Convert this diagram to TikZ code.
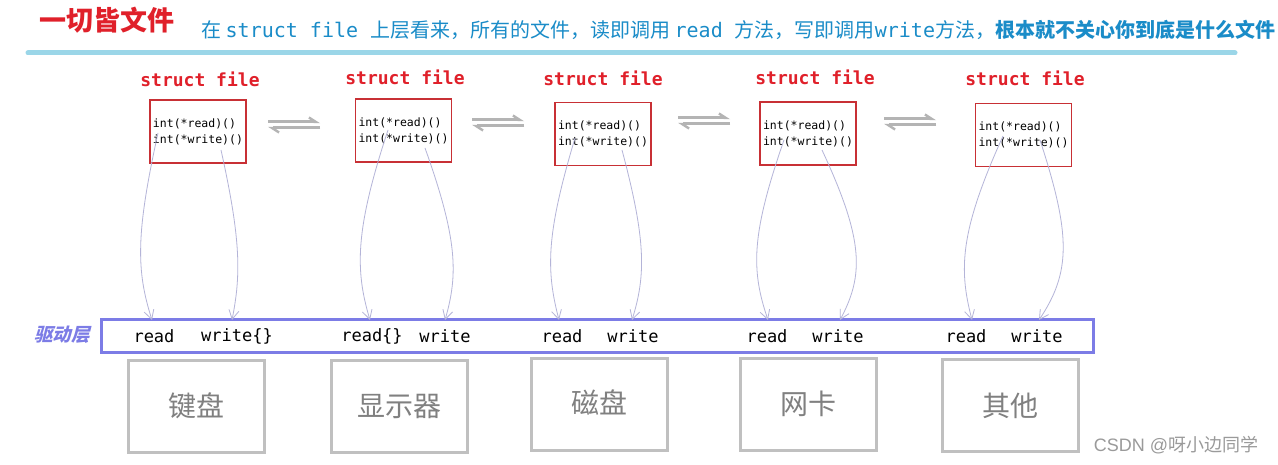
\documentclass[tikz,border=0pt]{standalone}
\usepackage{fontspec}
\setmonofont{DejaVu Sans Mono}
\newfontfamily\cjk{Noto Sans CJK SC}
\newfontfamily\cjkslant{Noto Sans CJK SC}[FakeSlant=0.25]
\newfontfamily\wmfont{Liberation Sans}
\usetikzlibrary{arrows.meta}
\definecolor{titlered}{HTML}{E0202A}
\definecolor{subblue}{HTML}{1A8CC8}
\definecolor{hlineblue}{HTML}{9BD6E8}
\definecolor{boxred}{HTML}{C83035}
\definecolor{layerblue}{HTML}{7C7CE6}
\definecolor{arrowpurple}{HTML}{B4B4D8}
\definecolor{devgray}{HTML}{C0C0C0}
\definecolor{devtext}{HTML}{808080}
\definecolor{swapgray}{HTML}{B4B4B4}
\tikzset{
  structlbl/.style={text=titlered, font=\ttfamily\bfseries\fontsize{18}{18}\selectfont, inner sep=0},
  filebox/.style={draw=boxred, line width=1.1pt, minimum width=96pt, minimum height=63pt, inner sep=0,
    align=left, font=\ttfamily\fontsize{11.5}{16}\selectfont},
  calls/.style={draw=arrowpurple, line width=0.8pt, -{Straight Barb[length=9pt,width=10pt,line width=0.8pt]}},
  swaparrow/.style={draw=swapgray, line width=3pt, -{Straight Barb[harpoon,length=7pt,width=9pt,line width=2.4pt]}},
  layerbox/.style={draw=layerblue, line width=3pt, minimum width=992pt, minimum height=32pt, inner sep=0},
  op/.style={font=\ttfamily\fontsize{17}{17}\selectfont, inner sep=0},
  devbox/.style={draw=devgray, line width=3pt, minimum width=136pt, minimum height=92pt, inner sep=0,
    text=devtext, font=\cjk\fontsize{28}{28}\selectfont},
}
\begin{document}
\begin{tikzpicture}[x=1pt,y=1pt]
\useasboundingbox[fill=white] (0,0) rectangle (1278,-465);
% title and subtitle
\node[anchor=west, text=titlered, inner sep=0, font=\cjk\bfseries\fontsize{27}{27}\selectfont] (title) at (39,-20) {一切皆文件};
\node[anchor=west, text=subblue, inner sep=0, font=\fontsize{20}{20}\selectfont] (sub) at (201,-30)
  {\cjk 在 \ttfamily struct file \cjk 上层看来，所有的文件，读即调用 \ttfamily read \cjk 方法，写即调用\ttfamily write\cjk 方法，\bfseries 根本就不关心你到底是什么文件};
\coordinate (hl) at (28,-53);
\coordinate (hr) at (1235,-53);
\draw[hlineblue, line width=5pt, line cap=round] (hl) -- (hr);
% struct file labels
\node[structlbl] (s1) at (200,-79) {struct file};
\node[structlbl] (s2) at (405,-77) {struct file};
\node[structlbl] (s3) at (603,-78) {struct file};
\node[structlbl] (s4) at (815,-77) {struct file};
\node[structlbl] (s5) at (1025,-78) {struct file};
% file boxes
\node[filebox] (f1) at (198,-131.5) {int(*read)()\\int(*write)()};
\node[filebox] (f2) at (403.5,-130.5) {int(*read)()\\int(*write)()};
\node[filebox] (f3) at (603,-134) {int(*read)()\\int(*write)()};
\node[filebox] (f4) at (808,-133.5) {int(*read)()\\int(*write)()};
\node[filebox] (f5) at (1023.5,-135) {int(*read)()\\int(*write)()};
% swap arrows
\draw[swaparrow] (268,-122) -- (320,-122);
\draw[swaparrow] (320,-128) -- (268,-128);
\draw[swaparrow] (472,-120) -- (524,-120);
\draw[swaparrow] (524,-126) -- (472,-126);
\draw[swaparrow] (678,-118) -- (730,-118);
\draw[swaparrow] (730,-124) -- (678,-124);
\draw[swaparrow] (884,-119) -- (936,-119);
\draw[swaparrow] (936,-125) -- (884,-125);
% driver layer
\node[layerbox] (layer) at (597,-336) {};
\node[text=layerblue, inner sep=0, font=\cjkslant\bfseries\fontsize{18.5}{18.5}\selectfont] (drv) at (62,-335) {驱动层};
\node[op] (r1) at (154,-336) {read};
\node[op] (w1) at (237,-336) {write\{\}};
\node[op] (r2) at (372,-336) {read\{\}};
\node[op] (w2) at (445,-336) {write};
\node[op] (r3) at (562,-336) {read};
\node[op] (w3) at (633,-336) {write};
\node[op] (r4) at (767,-336) {read};
\node[op] (w4) at (838,-336) {write};
\node[op] (r5) at (966,-336) {read};
\node[op] (w5) at (1037,-336) {write};
% start and end points of the call arrows
\coordinate (a1) at (158,-133); \coordinate (e1) at (152,-320);
\coordinate (b1) at (221,-150); \coordinate (g1) at (232,-320);
\coordinate (a2) at (388,-130); \coordinate (e2) at (370,-320);
\coordinate (b2) at (425,-148); \coordinate (g2) at (445,-320);
\coordinate (a3) at (575,-138); \coordinate (e3) at (559,-320);
\coordinate (b3) at (622,-150); \coordinate (g3) at (632,-320);
\coordinate (a4) at (784,-140); \coordinate (e4) at (768,-320);
\coordinate (b4) at (822,-150); \coordinate (g4) at (840,-320);
\coordinate (a5) at (1003,-136); \coordinate (e5) at (972,-320);
\coordinate (b5) at (1040,-140); \coordinate (g5) at (1039,-320);
\draw[calls] (a1) .. controls (136,-233) and (136,-270) .. (e1);
\draw[calls] (b1) .. controls (241,-240) and (241,-275) .. (g1);
\draw[calls] (a2) .. controls (355,-230) and (355,-270) .. (e2);
\draw[calls] (b2) .. controls (458,-240) and (458,-275) .. (g2);
\draw[calls] (a3) .. controls (546,-235) and (546,-270) .. (e3);
\draw[calls] (b3) .. controls (646,-240) and (646,-275) .. (g3);
\draw[calls] (a4) .. controls (751,-235) and (751,-270) .. (e4);
\draw[calls] (b4) .. controls (864,-240) and (864,-275) .. (g4);
\draw[calls] (a5) .. controls (959,-233) and (959,-270) .. (e5);
\draw[calls] (b5) .. controls (1071,-235) and (1071,-272) .. (g5);
% device boxes
\node[devbox] (d1) at (196,-406) {键盘};
\node[devbox] (d2) at (399.5,-406.5) {显示器};
\node[devbox] (d3) at (599,-404) {\raisebox{4pt}{磁盘}};
\node[devbox] (d4) at (808.5,-404) {网卡};
\node[devbox] (d5) at (1010.5,-405.5) {其他};
% watermark
\node[text=devtext!80, inner sep=0, font=\fontsize{18}{18}\selectfont] (wm) at (1176,-445) {\wmfont CSDN @\cjk 呀小边同学};
\end{tikzpicture}
\end{document}
